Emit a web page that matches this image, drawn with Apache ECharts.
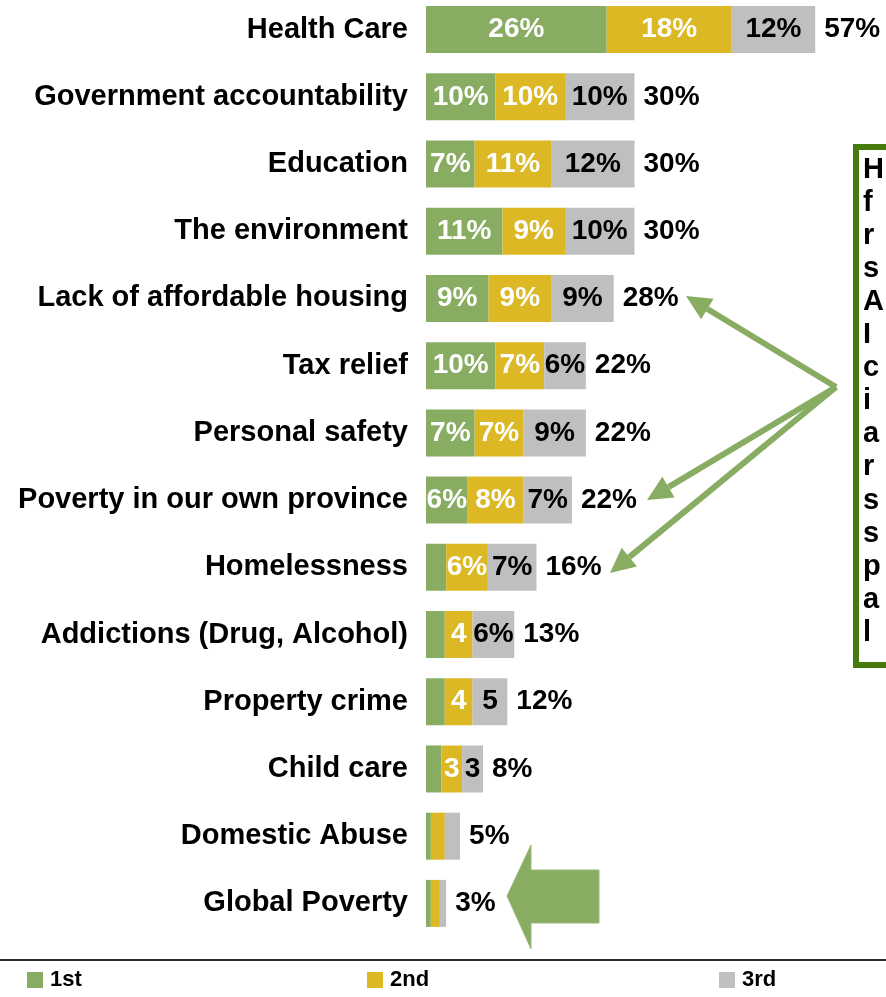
<!DOCTYPE html>
<html>
<head>
<meta charset="utf-8">
<script src="https://cdn.jsdelivr.net/npm/echarts@6/dist/echarts.min.js"></script>
<style>
  html, body { margin: 0; padding: 0; background: #fff; overflow: hidden; }
  /* canvas starts 4px above the viewport so the first bar sits close to the top edge */
  #chart { position: absolute; left: 0; top: -4px; width: 886px; height: 1001px; }
</style>
</head>
<body>
<div id="chart"></div>
<script>
// Issues ranked as 1st, 2nd and 3rd priority (% of respondents)
const categories = [
  'Health Care', 'Government accountability', 'Education', 'The environment',
  'Lack of affordable housing', 'Tax relief', 'Personal safety',
  'Poverty in our own province', 'Homelessness', 'Addictions (Drug, Alcohol)',
  'Property crime', 'Child care', 'Domestic Abuse', 'Global Poverty'
];
const firstValues  = [26, 10, 7, 11, 9, 10, 7, 6, 2.9, 2.7, 2.7, 2.2, 0.7, 0.7];
const secondValues = [18, 10, 11, 9, 9, 7, 7, 8, 6, 4, 4, 3, 2.0, 1.3];
const thirdValues  = [12, 10, 12, 10, 9, 6, 9, 7, 7, 6, 5, 3, 2.2, 0.9];
const firstLabels  = ['26%', '10%', '7%', '11%', '9%', '10%', '7%', '6%', '', '', '', '', '', ''];
const secondLabels = ['18%', '10%', '11%', '9%', '9%', '7%', '7%', '8%', '6%', '4', '4', '3', '', ''];
const thirdLabels  = ['12%', '10%', '12%', '10%', '9%', '6%', '9%', '7%', '7%', '6%', '5', '3', '', ''];
const totalLabels  = ['57%', '30%', '30%', '30%', '28%', '22%', '22%', '22%', '16%', '13%', '12%', '8%', '5%', '3%'];
const seriesNames  = ['1st', '2nd', '3rd'];
const calloutLines = [
  'Homelessness,', 'falling', 'rental', 'supply and',
  'Affordable', 'Income', 'concerns', 'in this',
  'area are', 'ranked', 'similarly;', 'support for',
  'poverty', 'abroad is', 'lowest.'
];

const FONT = '"Liberation Sans", Arial, Helvetica, sans-serif';
const GREEN = '#88ac62';
const YELLOW = '#dbb824';
const GREY = '#bfbfbf';
const DY = 4; // vertical offset of the canvas relative to the page

const chart = echarts.init(document.getElementById('chart'), null, { renderer: 'canvas' });

function segment(name, values, labels, color, textColor) {
  return {
    name: name,
    type: 'bar',
    stack: 'rank',
    barWidth: 47,
    barGap: '-100%',
    data: values,
    itemStyle: { color: color },
    label: {
      show: true,
      position: 'inside',
      color: textColor,
      fontFamily: FONT,
      fontWeight: 'bold',
      fontSize: 28,
      formatter: p => labels[p.dataIndex]
    },
    emphasis: { disabled: true },
    silent: true
  };
}

// Overall share per issue: an unfilled bar spanning the whole stack carries the total label
const totalValues = categories.map((c, i) => firstValues[i] + secondValues[i] + thirdValues[i]);

// Arrow helper: shaft + triangular head (annotation)
function arrow(from, to, width, headLen, headHalf, color) {
  from = [from[0], from[1] + DY];
  to = [to[0], to[1] + DY];
  const dx = to[0] - from[0], dy = to[1] - from[1];
  const len = Math.hypot(dx, dy);
  const ux = dx / len, uy = dy / len;
  const bx = to[0] - ux * headLen, by = to[1] - uy * headLen;
  const nx = -uy, ny = ux;
  return [
    { type: 'line', shape: { x1: from[0], y1: from[1], x2: bx, y2: by },
      style: { stroke: color, lineWidth: width }, silent: true },
    { type: 'polygon',
      shape: { points: [to, [bx + nx * headHalf, by + ny * headHalf], [bx - nx * headHalf, by - ny * headHalf]] },
      style: { fill: color }, silent: true }
  ];
}

const hub = [836, 387];
const graphics = [
  // rule above the legend
  { type: 'line', shape: { x1: 0, y1: 960 + DY, x2: 886, y2: 960 + DY },
    style: { stroke: '#2b2b2b', lineWidth: 2 }, silent: true },
  // callout box
  { type: 'rect', shape: { x: 856, y: 147 + DY, width: 120, height: 518 },
    style: { fill: '#fff', stroke: '#467a0c', lineWidth: 6 }, silent: true },
  { type: 'text', x: 863, y: 153 + DY,
    style: { text: calloutLines.join('\n'), fill: '#000',
             fontFamily: FONT, fontWeight: 'bold', fontSize: 29,
             lineHeight: 33.1, verticalAlign: 'top',
             width: 22, overflow: 'truncate', ellipsis: '' }, silent: true },
  // block arrow pointing at Global Poverty
  { type: 'polygon',
    shape: { points: [[507, 896], [531, 845], [531, 870], [599, 870], [599, 923], [531, 923], [531, 949]]
      .map(p => [p[0], p[1] + DY]) },
    style: { fill: GREEN, stroke: '#9bbb78', lineWidth: 1 }, silent: true }
]
  .concat(arrow(hub, [686, 296], 6, 25, 12, GREEN))
  .concat(arrow(hub, [647, 500], 6, 25, 12, GREEN))
  .concat(arrow(hub, [610, 573], 6, 25, 12, GREEN));

const option = {
  animation: false,
  backgroundColor: '#fff',
  textStyle: { fontFamily: FONT },
  grid: { left: 426, right: 43, top: 0, bottom: 60, containLabel: false },
  xAxis: {
    type: 'value', min: 0, max: 60,
    show: false
  },
  yAxis: {
    type: 'category',
    data: categories,
    inverse: true,
    axisLine: { show: false },
    axisTick: { show: false },
    axisLabel: {
      margin: 18,
      color: '#000',
      fontFamily: FONT,
      fontWeight: 'bold',
      fontSize: 29
    }
  },
  legend: seriesNames.map((n, i) => ({
    data: [n],
    left: [27, 367, 719][i],
    top: 969 + DY,
    padding: 0,
    icon: 'rect',
    itemWidth: 16,
    itemHeight: 16,
    itemGap: 0,
    selectedMode: false,
    textStyle: { color: '#000', fontFamily: FONT, fontWeight: 'bold', fontSize: 22, padding: [0, 0, 0, 2] }
  })),
  series: [
    segment(seriesNames[0], firstValues, firstLabels, GREEN, '#fff'),
    segment(seriesNames[1], secondValues, secondLabels, YELLOW, '#fff'),
    segment(seriesNames[2], thirdValues, thirdLabels, GREY, '#000'),
    {
      name: 'total',
      type: 'bar',
      barWidth: 47,
      barGap: '-100%',
      z: 1,
      data: totalValues,
      itemStyle: { color: 'rgba(255,255,255,0)' },
      label: {
        show: true,
        position: 'right',
        distance: 9,
        color: '#000',
        fontFamily: FONT,
        fontWeight: 'bold',
        fontSize: 28,
        formatter: p => totalLabels[p.dataIndex]
      },
      emphasis: { disabled: true },
      silent: true
    }
  ],
  graphic: graphics
};

chart.setOption(option);
</script>
</body>
</html>
